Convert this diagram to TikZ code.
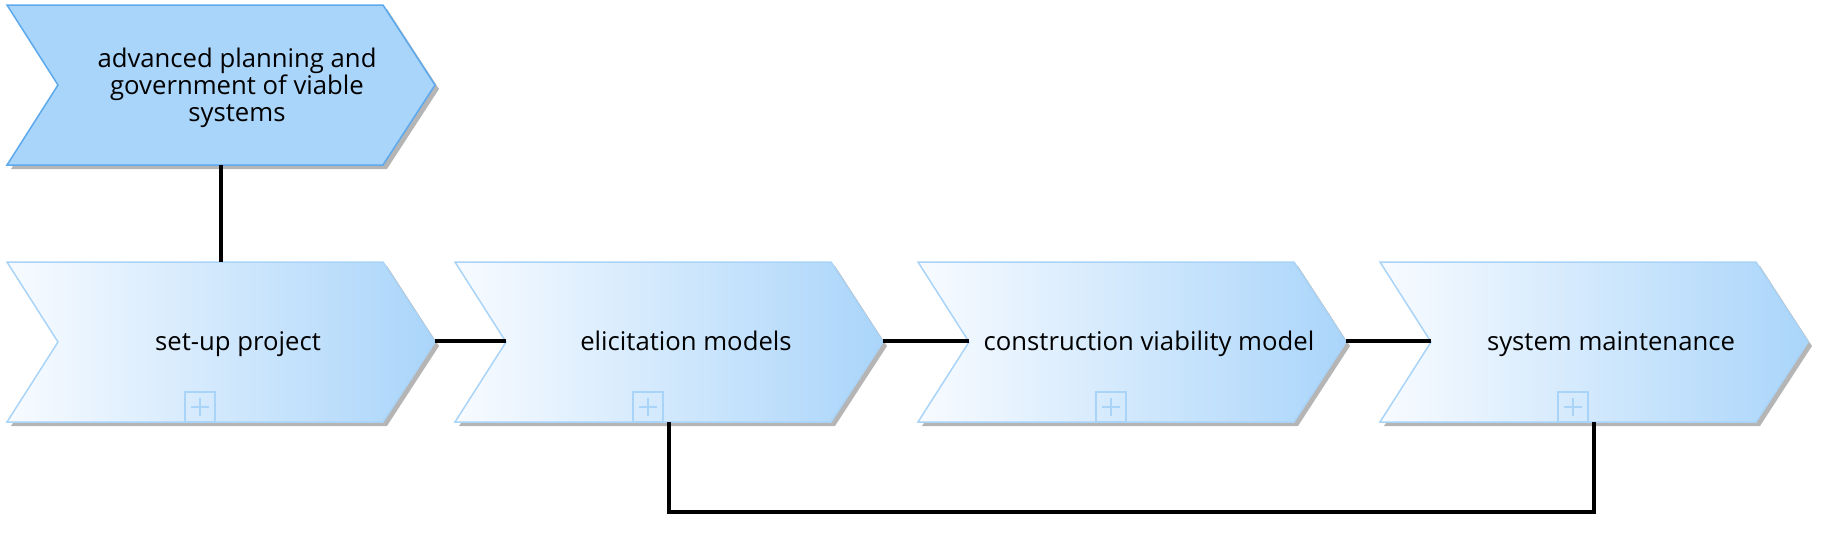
\documentclass[tikz,border=0pt]{standalone}
\usepackage{fontspec}
\setmainfont{Open Sans}
\usetikzlibrary{calc}

\definecolor{procblue}{HTML}{AAD5FA}
\definecolor{procedge}{HTML}{5CA9EE}
\definecolor{procline}{HTML}{A9D4F8}
\definecolor{procpale}{HTML}{F8FBFF}
\definecolor{shadowgray}{HTML}{B5B5B5}

\tikzset{
  conn/.style={line width=3.5pt,black},
  proclabel/.style={font=\fontsize{25.7}{26.8}\selectfont,align=center,inner sep=0pt},
  expandbox/.style={draw=procline,line width=1.5pt},
}

\begin{document}
\begin{tikzpicture}[x=1pt,y=-1pt]
    \useasboundingbox (0,0) rectangle (1826,538);
    
    % main process on top
    \fill[shadowgray] (11,9) -- ++(376,0) -- ++(52,80) -- ++(-52,80) -- ++(-376,0) -- ++(51,-80) -- cycle;
    \draw[fill=procblue,draw=procedge,line width=1.5pt] (7,5) -- ++(376,0) -- ++(52,80) -- ++(-52,80) -- ++(-376,0) -- ++(51,-80) -- cycle;
    \node[proclabel] (plan) at (237,88) {advanced planning and\\government of viable\\systems};
    \coordinate (plan-bot) at (221,165);
    
    % process steps
    \foreach \px/\nm/\txt in {7/setup/set-up project,455/elicit/elicitation models,918/constr/construction viability model,1380/maint/system maintenance} {
        \fill[shadowgray] (\px+4,266) -- ++(376,0) -- ++(52,80) -- ++(-52,80) -- ++(-376,0) -- ++(51,-80) -- cycle;
        \shade[left color=procpale,right color=procblue,draw=procline,line width=1.5pt] (\px,262) -- ++(376,0) -- ++(52,80) -- ++(-52,80) -- ++(-376,0) -- ++(51,-80) -- cycle;
        \node[proclabel,anchor=base] (\nm) at (\px+231,350) {\txt};
        % expand marker
        \draw[expandbox] (\px+178,392) rectangle ++(30,30);
        \draw[expandbox] (\px+184,407) -- ++(18,0) (\px+193,398) -- ++(0,18);
        \coordinate (\nm-in) at (\px+51,341);
        \coordinate (\nm-out) at (\px+428,341);
        \coordinate (\nm-top) at (\px+214,262);
        \coordinate (\nm-bot) at (\px+214,422);
    }
    
    % connectors
    \draw[conn] (plan-bot) -- (setup-top);
    \draw[conn] (setup-out) -- (elicit-in);
    \draw[conn] (elicit-out) -- (constr-in);
    \draw[conn] (constr-out) -- (maint-in);
    \draw[conn] (elicit-bot) -- ++(0,90) -| (maint-bot);
    
\end{tikzpicture}
\end{document}
